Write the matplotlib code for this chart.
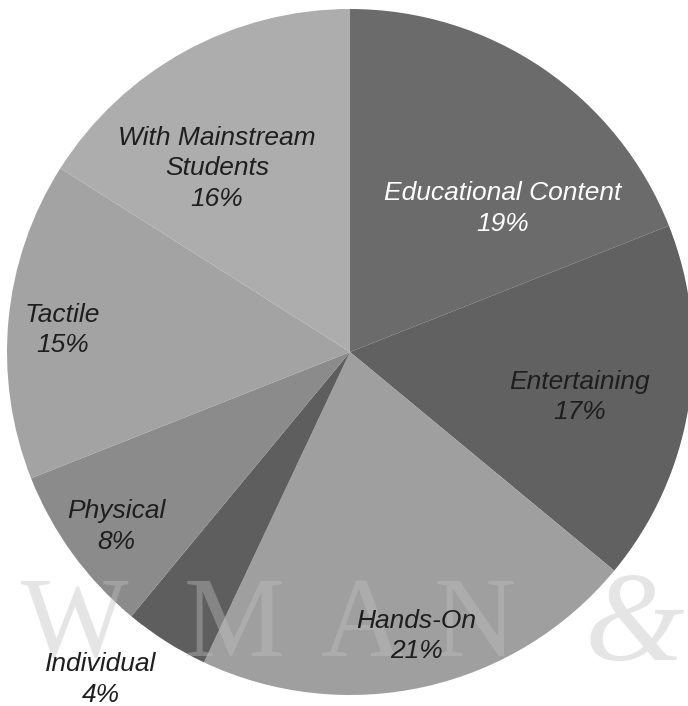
import numpy as np
import matplotlib.pyplot as plt

labels = ["Educational Content", "Entertaining", "Hands-On", "Individual",
          "Physical", "Tactile", "With Mainstream\nStudents"]
shares = [19, 17, 21, 4, 8, 15, 16]
colors = ["#6b6b6b", "#616161", "#9f9f9f", "#5e5e5e", "#8b8b8b", "#a3a3a3", "#adadad"]
text_colors = ["white", "#1e1e1e", "#1e1e1e", "#1e1e1e", "#1e1e1e", "#1e1e1e", "#1e1e1e"]
# radial position of each label (fraction of radius) and a small angular nudge
label_dist = [0.61, 0.683, 0.85, 1.20, 0.85, 0.84, 0.661]
label_nudge = [-12.5, -2.1, 0.5, -4.9, 0.75, 1.0, 7.1]

fig = plt.figure(figsize=(6.88, 7.06), dpi=100)
ax = fig.add_axes([0, 0, 1, 1])

cx, cy, r = 350, 354, 343
wedges, _ = ax.pie(shares, colors=colors, startangle=90, counterclock=False,
                   center=(cx, cy), radius=r, frame=True,
                   wedgeprops=dict(linewidth=0))
ax.set_xlim(0, 688)
ax.set_ylim(0, 706)
ax.set_aspect("equal")
ax.axis("off")

for w, lab, pct, tc, d, dn in zip(wedges, labels, shares, text_colors,
                                  label_dist, label_nudge):
    ang = np.deg2rad((w.theta1 + w.theta2) / 2 + dn)
    x = cx + d * r * np.cos(ang)
    y = cy + d * r * np.sin(ang)
    ax.text(x, y, f"{lab}\n{pct}%", ha="center", va="center",
            fontsize=19, style="italic", family="Liberation Sans",
            color=tc, linespacing=1.35, zorder=5)

# faint publisher mark across the bottom
for ch, xc in zip(["O", "W", "M", "A", "N"], [-38, 75, 234, 362, 475]):
    ax.text(xc, 50, ch, ha="center", va="baseline", fontsize=82,
            family="Liberation Serif", color="#c0c0c0", alpha=0.4, zorder=4)
ax.text(634, 46, "&", ha="center", va="baseline", fontsize=92, style="italic",
        family="Liberation Serif", color="#c0c0c0", alpha=0.4, zorder=4)

fig.savefig("out.png", dpi=100)
